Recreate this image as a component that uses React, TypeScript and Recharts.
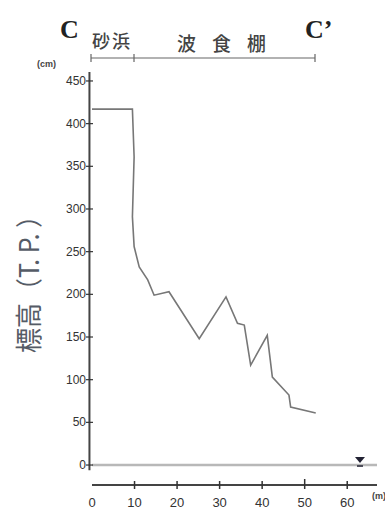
import {
  ComposedChart,
  Line,
  XAxis,
  YAxis,
  ReferenceLine,
  ReferenceDot,
} from "recharts"

// profile C - C'
const distance = [0, 9.5, 9.9, 9.5, 9.9, 11.1, 13.1, 14.6, 18.1, 25.2, 31.5, 34.2, 35.8, 37.3, 41.2, 42.4, 46.3, 46.7, 52.6]
const elevation = [417, 417, 361, 291, 256, 232, 217, 199, 203, 148, 197, 166, 164, 117, 152, 103, 82, 68, 61]

const xTicks = [0, 10, 20, 30, 40, 50, 60]
const yTicks = [0, 50, 100, 150, 200, 250, 300, 350, 400, 450]
const waterMarkX = 63

const data = distance.map((d, i) => ({ x: d, y: elevation[i] }))

const ink = "#333"

function YTick({ y, payload }: any) {
  return (
    <g>
      <text x={86} y={y} dy={4} textAnchor="end" fontSize={12} fill={ink} fontFamily="Liberation Sans, Arial, sans-serif">
        {payload.value}
      </text>
      <line x1={86} x2={93} y1={y} y2={y} stroke={ink} strokeWidth={1.2} />
    </g>
  )
}

function XTick({ x, payload }: any) {
  return (
    <g>
      {payload.value !== 0 && (
        <line x1={x} x2={x} y1={payload.value === 50 ? 479 : 481} y2={489} stroke={ink} strokeWidth={1.5} />
      )}
      <text x={x} y={507} textAnchor="middle" fontSize={13} fill={ink} fontFamily="Liberation Sans, Arial, sans-serif">
        {payload.value}
      </text>
    </g>
  )
}

function WaterMark({ cx, cy }: any) {
  return (
    <g>
      <path d={`M${cx - 5},${cy - 8} L${cx + 5},${cy - 8} L${cx},${cy - 2} Z`} fill="#223" />
      <line x1={cx - 3} x2={cx + 3} y1={cy + 1} y2={cy + 1} stroke="#223" strokeWidth={1.5} />
    </g>
  )
}

export default function App() {
  return (
    <div style={{ position: "absolute", left: 0, top: 0, width: 385, height: 512, background: "#fff" }}>
      <ComposedChart width={385} height={512} data={data} margin={{ top: 72, right: 8, bottom: 0, left: 0 }}>
        <XAxis
          dataKey="x"
          type="number"
          domain={[0, 67]}
          ticks={xTicks}
          axisLine={{ stroke: "#444", strokeWidth: 2 }}
          tickLine={false}
          tick={<XTick />}
          height={27}
        />
        <YAxis
          type="number"
          domain={[-23.4, 460.5]}
          ticks={yTicks}
          axisLine={false}
          tickLine={false}
          tick={<YTick />}
          width={92}
        />
        <ReferenceLine y={0} stroke="#b8b8b8" strokeWidth={2.5} />
        <ReferenceLine
          segment={[{ x: -0.6, y: -6 }, { x: -0.6, y: 460.5 }]}
          stroke="#444"
          strokeWidth={2}
          ifOverflow="visible"
        />
        <ReferenceDot x={waterMarkX} y={0} shape={<WaterMark />} ifOverflow="visible" />
        <Line
          type="linear"
          dataKey="y"
          stroke="#777"
          strokeWidth={1.6}
          dot={false}
          isAnimationActive={false}
        />
        {/* header annotations */}
        <text x={60} y={38} fontSize={26} fontWeight="bold" fill="#222" fontFamily="Liberation Serif, serif">C</text>
        <text x={305} y={38} fontSize={26} fontWeight="bold" fill="#222" fontFamily="Liberation Serif, serif">C’</text>
        <text x={92} y={48} fontSize={18} fill="#444" fontFamily="Noto Sans CJK JP" fontWeight={500} letterSpacing={2}>砂浜</text>
        <text x={177} y={51} fontSize={19} fill="#444" fontFamily="Noto Sans CJK JP" fontWeight={500} letterSpacing={16}>波食棚</text>
        <line x1={91} x2={315} y1={58} y2={58} stroke="#666" strokeWidth={1.2} />
        <line x1={91} x2={91} y1={54} y2={62} stroke="#666" strokeWidth={1.2} />
        <line x1={134} x2={134} y1={54} y2={62} stroke="#666" strokeWidth={1.2} />
        <line x1={315} x2={315} y1={54} y2={62} stroke="#666" strokeWidth={1.2} />
        <text x={37} y={67} fontSize={9} fontWeight="bold" fill="#444" fontFamily="Liberation Sans, Arial, sans-serif">(cm)</text>
        <text x={372} y={499} fontSize={9} fontWeight="bold" fill="#444" fontFamily="Liberation Sans, Arial, sans-serif">(m)</text>
        <text
          x={0}
          y={0}
          transform="translate(39,278) rotate(-90)"
          textAnchor="middle"
          fontSize={27}
          fill="#555b66"
          fontFamily="Noto Sans CJK JP"
          textLength={150}
          lengthAdjust="spacingAndGlyphs"
        >
          標高（T. P. ）
        </text>
      </ComposedChart>
    </div>
  )
}
